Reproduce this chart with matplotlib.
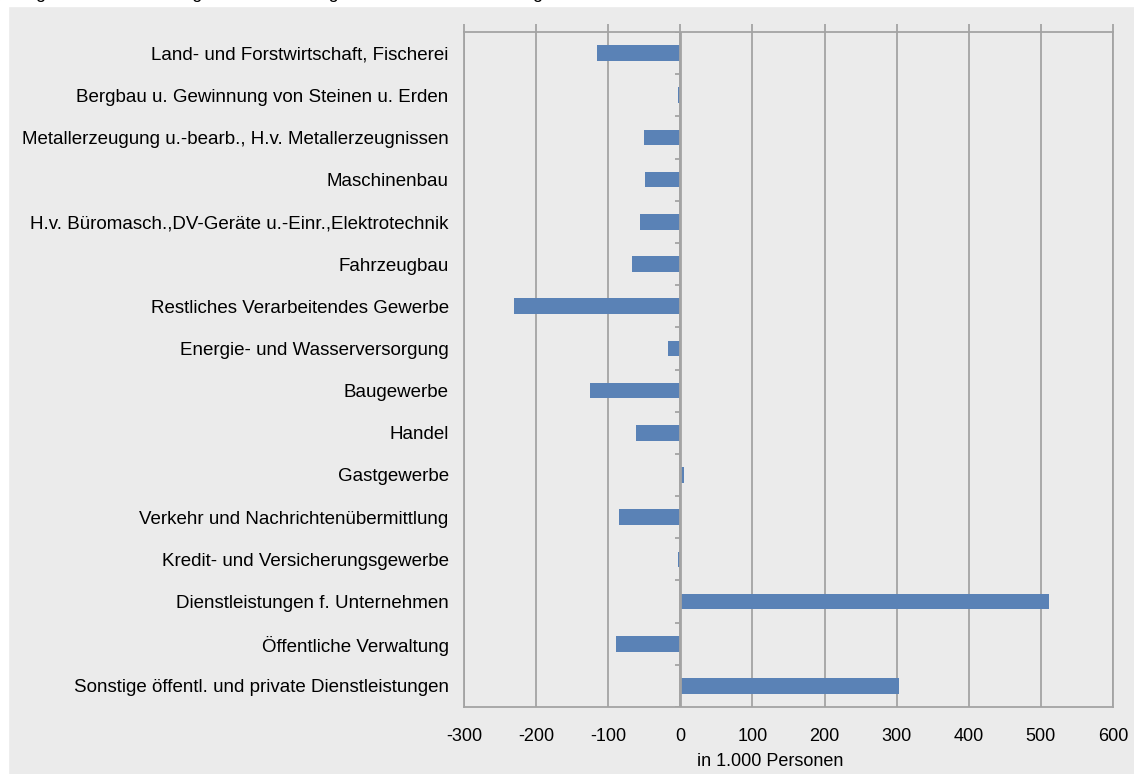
import matplotlib.pyplot as plt
from matplotlib.patches import Rectangle

plt.rcParams['font.family'] = ['Liberation Sans', 'DejaVu Sans']

# Wirtschaftszweige, von oben nach unten
categories = [
    "Land- und Forstwirtschaft, Fischerei",
    "Bergbau u. Gewinnung von Steinen u. Erden",
    "Metallerzeugung u.-bearb., H.v. Metallerzeugnissen",
    "Maschinenbau",
    "H.v. Büromasch.,DV-Geräte u.-Einr.,Elektrotechnik",
    "Fahrzeugbau",
    "Restliches Verarbeitendes Gewerbe",
    "Energie- und Wasserversorgung",
    "Baugewerbe",
    "Handel",
    "Gastgewerbe",
    "Verkehr und Nachrichtenübermittlung",
    "Kredit- und Versicherungsgewerbe",
    "Dienstleistungen f. Unternehmen",
    "Öffentliche Verwaltung",
    "Sonstige öffentl. und private Dienstleistungen",
]
# Veränderung in 1.000 Personen
values = [-116, -3, -51, -49, -56, -67, -230, -17, -125, -61, 5, -85, -3, 511, -89, 303]

xticks = [-300, -200, -100, 0, 100, 200, 300, 400, 500, 600]
xlabel = "in 1.000 Personen"
title = "Ergebnis: Veränderung der Erwerbstätigen nach Wirtschaftszweigen"

bg = '#EBEBEB'
grid_col = '#A3A3A3'
bar_col = '#5A82B6'

fig = plt.figure(figsize=(11.34, 7.74), dpi=100, facecolor=bg)
# white margin top and left like the cropped original
fig.patches.append(Rectangle((0, 1 - 6 / 774), 1, 6 / 774, transform=fig.transFigure,
                             color='white', zorder=0))
fig.patches.append(Rectangle((0, 0), 8 / 1134, 1, transform=fig.transFigure,
                             color='white', zorder=0))
# title, cropped at the top edge in the original (only descenders visible)
fig.text(18 / 1134, 1 + 1.5 / 774, title, fontsize=13, va='baseline', ha='left', color='black')

ax = fig.add_axes([464 / 1134, 1 - 707 / 774, 649 / 1134, 675 / 774])
ax.set_facecolor(bg)

n = len(categories)
pos = list(range(n))
ax.barh(pos, values, height=0.37, color=bar_col, zorder=3)

ax.set_xlim(-300, 600)
ax.set_ylim(n - 0.5, -0.5)
ax.set_xticks(xticks)
ax.set_xticklabels([str(t) for t in xticks], fontsize=13)
ax.set_yticks(pos)
ax.set_yticklabels(categories, fontsize=13.5)

ax.grid(axis='x', color=grid_col, lw=1.3, zorder=1)
ax.grid(axis='y', visible=False)
for sp in ax.spines.values():
    sp.set_color(grid_col)
    sp.set_linewidth(1.3)

ax.tick_params(axis='x', top=True, bottom=False, labeltop=False, labelbottom=True,
               direction='out', length=6, width=1.3, color=grid_col, pad=9)
ax.tick_params(axis='y', length=0, pad=11)

# category axis at zero with small separator ticks
ax.axvline(0, color=grid_col, lw=2.0, zorder=4)
bounds = [i + 0.5 for i in range(-1, n)]
ax.hlines(bounds, -8, 0, color=grid_col, lw=1.3, zorder=4)

ax.set_xlabel(xlabel, fontsize=13)
ax.xaxis.set_label_coords((770 - 464) / 649, -(762 - 707) / 675)
ax.xaxis.label.set_va('center')

fig.savefig('out.png', dpi=100, facecolor=fig.get_facecolor())
